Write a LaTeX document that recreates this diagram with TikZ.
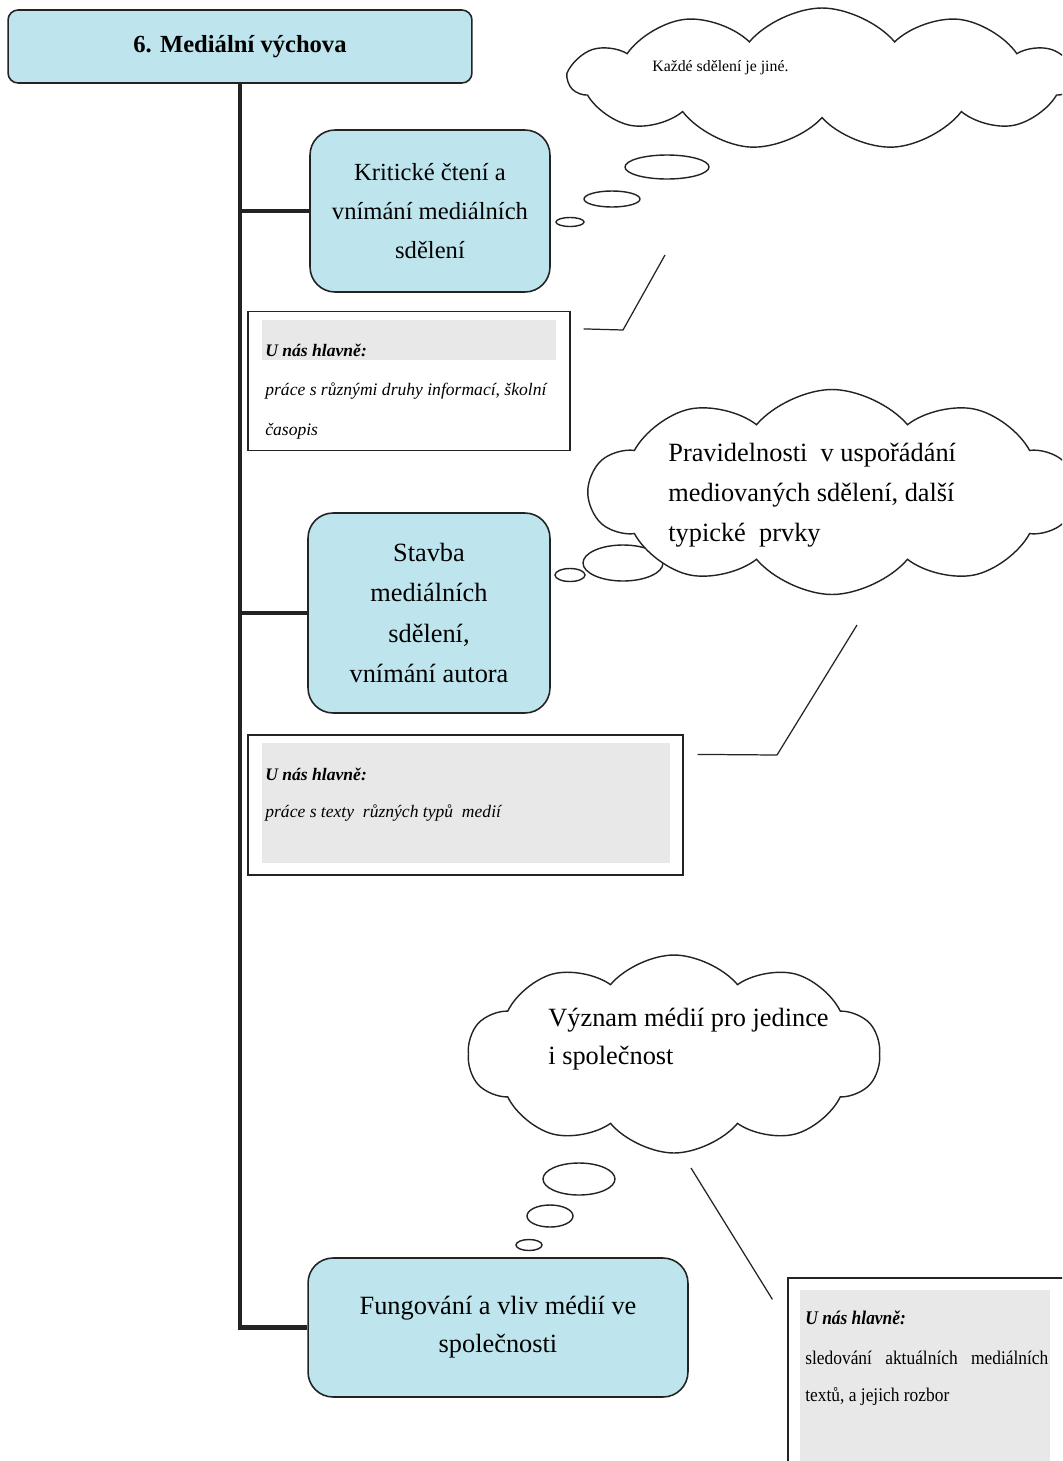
\documentclass[tikz,border=0pt]{standalone}
\usepackage{fontspec}
\setmainfont{Liberation Serif}
\newfontfamily\narrowserif[FakeStretch=0.9]{Liberation Serif}
\usetikzlibrary{shapes.symbols, shapes.geometric, positioning, calc}
\definecolor{topiccolor}{RGB}{190, 229, 238}
\definecolor{notegray}{RGB}{232, 232, 232}
\definecolor{inkcolor}{RGB}{35, 35, 35}

\begin{document}
\begin{tikzpicture}[x=0.02cm, y=-0.02cm,
    topicbox/.style={draw=inkcolor, line width=0.9pt, fill=topiccolor, rounded corners=0.5cm, align=center, font=\fontsize{15}{23}\selectfont},
    notebox/.style={draw=inkcolor, line width=0.7pt, fill=white, inner sep=0pt},
    notebar/.style={fill=notegray, inner sep=0pt},
    notehead/.style={anchor=west, inner sep=0pt, font=\fontsize{10}{12}\selectfont\bfseries\itshape},
    notetext/.style={anchor=west, inner sep=0pt, font=\fontsize{10}{12}\selectfont\itshape},
    thought/.style={cloud, cloud puffs=10, cloud puff arc=100, cloud ignores aspect, draw=inkcolor, line width=0.8pt, fill=white, inner sep=0pt},
    bubble/.style={ellipse, draw=inkcolor, line width=0.8pt, fill=white, inner sep=0pt},
    trunk/.style={draw=inkcolor, line width=2.6pt},
    pointer/.style={draw=inkcolor, line width=0.7pt}]

    % Page
    \clip (0,0) rectangle (1062,1461);
    \fill[white] (0,0) rectangle (1062,1461);

    % Title
    \node[topicbox, rounded corners=0.2cm, minimum width=9.28cm, minimum height=1.46cm, font=\fontsize{14}{16}\selectfont\bfseries] (title) at (240,46.5) {6. Mediální výchova};

    % Topic boxes
    \node[topicbox, minimum width=4.8cm, minimum height=3.24cm, font=\fontsize{14}{22}\selectfont] (crit) at (430,211) {Kritické čtení a\\vnímání mediálních\\sdělení};
    \node[topicbox, minimum width=4.84cm, minimum height=4cm] (stavba) at (429,613) {Stavba\\mediálních\\sdělení,\\vnímání autora};
    \node[topicbox, minimum width=7.6cm, minimum height=2.78cm, font=\fontsize{15}{21.6}\selectfont] (fung) at (498,1327.5) {Fungování a vliv médií ve\\společnosti};

    % Trunk and branches
    \draw[trunk] (title.south) -- (title.south |- fung.west) -- (fung.west);
    \draw[trunk] (title.south |- crit.west) -- (crit.west);
    \draw[trunk] (title.south |- stavba.west) -- (stavba.west);

    % Notes
    \node[notebox, minimum width=6.44cm, minimum height=2.78cm] (noteA) at (409,381) {};
    \node[notebar, minimum width=5.88cm, minimum height=0.8cm] (noteAbar) at (409,340) {};
    \node[notehead] (noteAhead) at (265,350) {U nás hlavně:};
    \node[notetext] (noteAline1) at (265,391) {práce s různými druhy informací, školní};
    \node[notetext] (noteAline2) at (265,431) {časopis};

    \node[notebox, minimum width=8.7cm, minimum height=2.8cm] (noteB) at (465.5,805) {};
    \node[notebar, minimum width=8.16cm, minimum height=2.4cm] (noteBbar) at (466,803) {};
    \node[notehead] (noteBhead) at (265,774) {U nás hlavně:};
    \node[notetext] (noteBline1) at (265,813) {práce s texty~ různých typů~ medií};

    \node[notebox, minimum width=5.84cm, minimum height=4.04cm] (noteC) at (934,1379) {};
    \node[notebar, minimum width=5cm, minimum height=3.7cm] (noteCbar) at (925,1382.5) {};
    \node[notehead, font=\fontsize{11}{13}\narrowserif\bfseries\itshape] (noteChead) at (805,1318) {U nás hlavně:};
    \node[notetext, font=\fontsize{11}{13}\narrowserif] (noteCline1) at (805,1358) {\makebox[4.86cm][s]{sledování aktuálních mediálních}};
    \node[notetext, font=\fontsize{11}{13}\narrowserif] (noteCline2) at (805,1397) {textů, a jejich rozbor};

    % Clouds
    \node[thought, cloud puffs=11, minimum width=10.1cm, minimum height=2.84cm] (cloudA) at (822,79) {};
    \node[anchor=west, inner sep=0pt, font=\fontsize{9}{11}\selectfont] (cloudAtext) at (652,68) {Každé sdělení je jiné.};
    \node[bubble, minimum width=1.68cm, minimum height=0.48cm] (bubA1) at (667,167) {};
    \node[bubble, minimum width=1.12cm, minimum height=0.32cm] (bubA2) at (612,199) {};
    \node[bubble, minimum width=0.56cm, minimum height=0.18cm] (bubA3) at (570,222) {};

    \node[bubble, minimum width=1.6cm, minimum height=0.72cm] (bubB1) at (623,563) {};
    \node[thought, minimum width=9.7cm, minimum height=4.1cm] (cloudB) at (832,492) {};
    \node[bubble, minimum width=0.6cm, minimum height=0.26cm] (bubB2) at (570,575) {};
    \node[anchor=west, align=left, inner sep=0pt, font=\fontsize{15}{22.8}\selectfont] (cloudBtext) at (668,495) {Pravidelnosti~ v uspořádání\\mediovaných sdělení, další\\typické~ prvky};

    \node[thought, minimum width=8.24cm, minimum height=3.96cm] (cloudC) at (674,1054) {};
    \node[anchor=west, align=left, inner sep=0pt, font=\fontsize{15}{21.6}\selectfont] (cloudCtext) at (548,1039) {Význam médií pro jedince\\i společnost};
    \node[bubble, minimum width=1.44cm, minimum height=0.64cm] (bubC1) at (579,1179) {};
    \node[bubble, minimum width=0.92cm, minimum height=0.44cm] (bubC2) at (550,1216) {};
    \node[bubble, minimum width=0.52cm, minimum height=0.22cm] (bubC3) at (529,1245) {};

    % Callout pointers
    \coordinate (tipA) at (665,255);
    \coordinate (bendA) at (623,330);
    \draw[pointer] ($(noteA.north east)+(13,18)$) -- (bendA) -- (tipA);
    \coordinate (tipB) at (857,625);
    \coordinate (bendB) at (777,755);
    \draw[pointer] ($(noteB.north east)+(14,20)$) -- (bendB) -- (tipB);
    \coordinate (tipC) at (691,1168);
    \draw[pointer] ($(noteC.north west)+(-15,22)$) -- (tipC);

\end{tikzpicture}
\end{document}
